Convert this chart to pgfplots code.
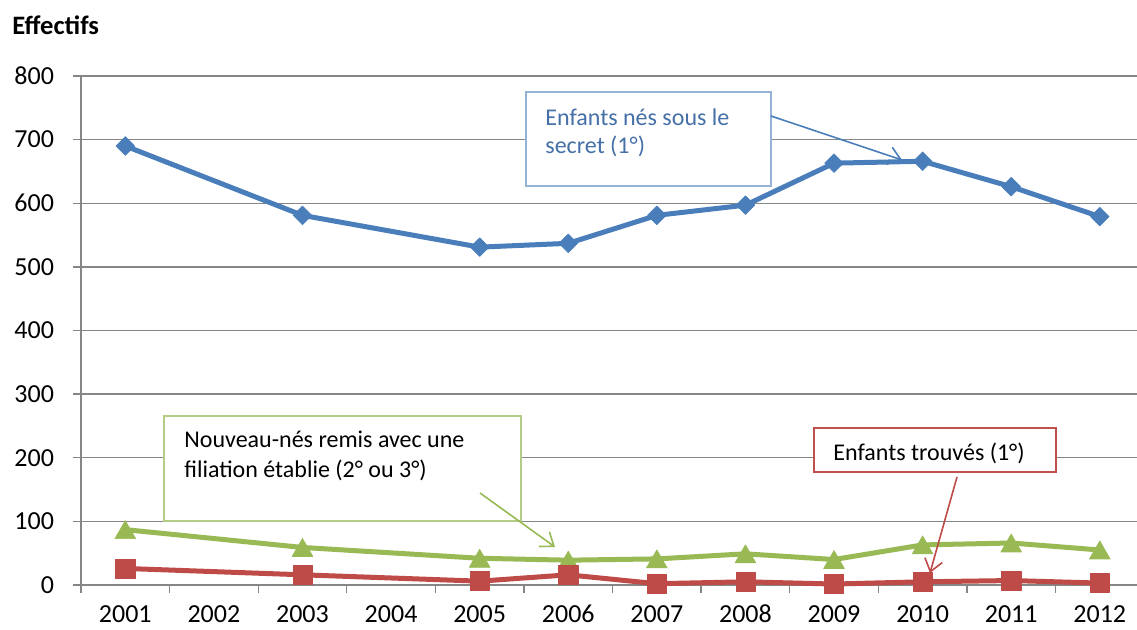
\documentclass[border=0pt]{standalone}
\usepackage{pgfplots}
\pgfplotsset{compat=1.18}
\usepackage{fontspec}
\setmainfont{Carlito}
\usetikzlibrary{arrows.meta}
\definecolor{GridGray}{HTML}{868686}
\definecolor{SerieBleu}{HTML}{4A7EBB}
\definecolor{SerieRouge}{HTML}{BE4B48}
\definecolor{SerieVert}{HTML}{98B954}
\definecolor{CadreBleu}{HTML}{95B3D7}
\definecolor{CadreVert}{HTML}{B5CC85}
\definecolor{CadreRouge}{HTML}{C0504D}
\definecolor{TexteBleu}{HTML}{4570A8}

\begin{document}
\begin{tikzpicture}
% page = 1137 x 630 px, 1 px = 0.5pt, origin at the axis corner (81,585)
\path[use as bounding box] (-40.5pt,-22.5pt) rectangle (528pt,292.5pt);
\begin{axis}[
  at={(0,0)}, anchor=south west,
  scale only axis,
  width=528pt, height=254.5pt,
  xmin=-0.5, xmax=11.42,
  ymin=0, ymax=800,
  axis x line*=bottom, axis y line*=left,
  axis line style={draw=GridGray, line width=0.65pt},
  xtick={0,...,11},
  xticklabels={2001,2002,2003,2004,2005,2006,2007,2008,2009,2010,2011,2012},
  minor xtick={-0.5,0.5,...,10.5},
  ytick={0,100,...,800},
  tick align=outside,
  major tick length=4pt, minor tick length=4pt,
  every tick/.style={draw=GridGray, line width=0.65pt},
  major x tick style={draw=none},
  ymajorgrids,
  grid style={draw=GridGray, line width=0.65pt},
  /pgf/number format/assume math mode=true,
  tick label style={font=\fontsize{13}{15}\selectfont},
  yticklabel style={xshift=-6pt},
  xticklabel style={anchor=base, inner sep=0pt, yshift=-15pt},
  clip=false,
  line join=round,
]
\addplot[color=SerieBleu, line width=2.5pt, mark=square*, mark size=3.3pt,
  mark options={rotate=45, line width=0.3pt}]
  coordinates {(0,690) (2,581) (4,531) (5,537) (6,581) (7,597) (8,663) (9,666) (10,626) (11,579)};
\addplot[color=SerieVert, line width=2.5pt, mark=triangle*, mark size=6pt,
  mark options={yshift=-1.5pt, line width=0.3pt}]
  coordinates {(0,87) (2,59) (4,42) (5,39) (6,41) (7,49) (8,40) (9,63) (10,66) (11,55)};
\addplot[color=SerieRouge, line width=2.5pt, mark=square*, mark size=4.8pt,
  mark options={line width=0.3pt}]
  coordinates {(0,26) (2,16) (4,6) (5,16) (6,2) (7,5) (8,1.5) (9,5) (10,7) (11,3)};
\end{axis}

\begin{scope}[x=0.5pt, y=-0.5pt, shift={(-81,-585)}]
  \node[anchor=base west, inner sep=0, font=\bfseries\fontsize{13.3}{16}\selectfont] at (12,35) {Effectifs};

  % Enfants nes sous le secret
  \draw[CadreBleu, fill=white, line width=0.6pt] (526,92) rectangle (771,186);
  \node[anchor=base west, inner sep=0, text=TexteBleu, font=\fontsize{12}{14}\selectfont] at (545,125.5) {Enfants nés sous le};
  \node[anchor=base west, inner sep=0, text=TexteBleu, font=\fontsize{12}{14}\selectfont] at (545,154) {secret (1°)};
  \draw[SerieBleu, line width=0.8pt, -{Straight Barb[length=6pt,width=9pt]}] (771,116) -- (902,160);

  % Nouveau-nes remis
  \draw[CadreVert, fill=white, line width=0.6pt] (164,416) rectangle (521,521);
  \node[anchor=base west, inner sep=0, font=\fontsize{12}{14}\selectfont] at (184,448) {Nouveau-nés remis avec une};
  \node[anchor=base west, inner sep=0, font=\fontsize{12}{14}\selectfont] at (184,478) {filiation établie (2° ou 3°)};
  \draw[SerieVert, line width=0.8pt, -{Straight Barb[length=6pt,width=9pt]}] (480,493) -- (555,547);

  % Enfants trouves
  \draw[CadreRouge, fill=white, line width=0.6pt] (814,428) rectangle (1056,472);
  \node[anchor=base west, inner sep=0, font=\fontsize{12}{14}\selectfont] at (833,460.5) {Enfants trouvés (1°)};
  \draw[SerieRouge, line width=0.8pt, -{Straight Barb[length=6pt,width=9pt]}] (957,477) -- (930,573);
\end{scope}
\end{tikzpicture}
\end{document}
